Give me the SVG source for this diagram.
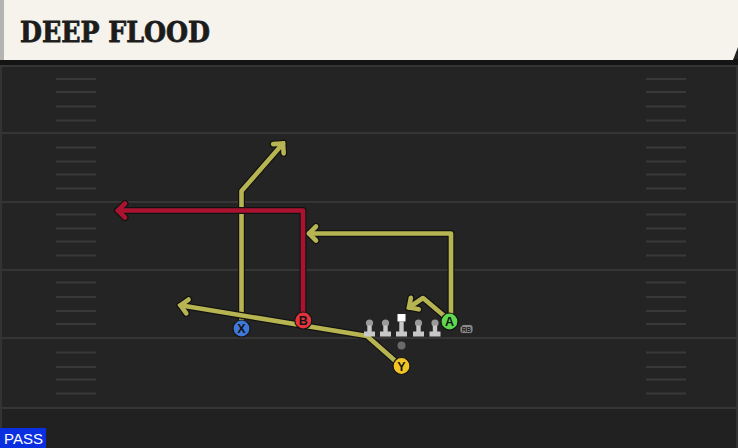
<svg xmlns="http://www.w3.org/2000/svg" width="738" height="448" viewBox="0 0 738 448">
<defs>
<style>
.yard{stroke:#353535;stroke-width:2;fill:none}
.hash{stroke:#393939;stroke-width:2;fill:none}
.out{fill:none;stroke:#121212;stroke-width:7;stroke-linejoin:round;stroke-linecap:round}
.yel{fill:none;stroke:#b7b552;stroke-width:4.6;stroke-linejoin:round;stroke-linecap:round}
.red{fill:none;stroke:#aa1330;stroke-width:4.6;stroke-linejoin:round;stroke-linecap:round}
.plr{stroke:#151515;stroke-width:1.2}
.lbl{font-family:"Liberation Sans",Arial,sans-serif;font-weight:bold;font-size:12.5px;fill:#141414;text-anchor:middle}
.lm{fill:#c8c8c8}
</style>
<marker id="mo" markerUnits="userSpaceOnUse" viewBox="-12 -12 24 24" markerWidth="24" markerHeight="24" refX="0" refY="0" orient="auto">
<path d="M-7 -7 L0 0 L-7 7" fill="none" stroke="#121212" stroke-width="7" stroke-linecap="round" stroke-linejoin="miter"/>
</marker>
<marker id="my" markerUnits="userSpaceOnUse" viewBox="-12 -12 24 24" markerWidth="24" markerHeight="24" refX="0" refY="0" orient="auto">
<path d="M-7 -7 L0 0 L-7 7" fill="none" stroke="#b7b552" stroke-width="4.6" stroke-linecap="round" stroke-linejoin="miter"/>
</marker>
<marker id="mr" markerUnits="userSpaceOnUse" viewBox="-12 -12 24 24" markerWidth="24" markerHeight="24" refX="0" refY="0" orient="auto">
<path d="M-7 -7 L0 0 L-7 7" fill="none" stroke="#aa1330" stroke-width="4.6" stroke-linecap="round" stroke-linejoin="miter"/>
</marker>
</defs>

<g id="field">
<rect x="0" y="0" width="738" height="448" fill="#242424"/>
<rect x="0" y="408" width="738" height="40" fill="#212121"/>
<rect x="0" y="60" width="2" height="388" fill="#333"/>
<rect x="736" y="60" width="2" height="388" fill="#333"/>
<path class="yard" d="M0 66H738M0 133H738M0 202H738M0 270H738M0 338H738M0 408H738"/>
<path class="hash" d="M56 79H96M56 92H96M56 106.5H96M56 120.5H96M56 147.5H96M56 161.5H96M56 174.5H96M56 188.5H96M56 214.5H96M56 228.5H96M56 241.5H96M56 255.5H96M56 282.5H96M56 297H96M56 311H96M56 324H96M56 352.5H96M56 367H96M56 379.5H96M56 393.5H96"/>
<path class="hash" d="M646 79H686M646 92H686M646 106.5H686M646 120.5H686M646 147.5H686M646 161.5H686M646 174.5H686M646 188.5H686M646 214.5H686M646 228.5H686M646 241.5H686M646 255.5H686M646 282.5H686M646 297H686M646 311H686M646 324H686M646 352.5H686M646 367H686M646 379.5H686M646 393.5H686"/>
</g>

<g id="banner">
<rect x="0" y="59" width="738" height="6" fill="#141414"/>
<path d="M0 0H738V47L733 60H0Z" fill="#f6f3ec"/>
<rect x="0" y="0" width="4" height="60" fill="#b4b4b2"/>
<text x="20" y="41.5" font-family="'DejaVu Serif','Liberation Serif',serif" font-weight="bold" font-size="28" textLength="190" lengthAdjust="spacingAndGlyphs" fill="#1c1c1c" stroke="#1c1c1c" stroke-width="0.8">DEEP FLOOD</text>
</g>

<g id="connectors">
<path class="out" d="M241.5 328V191L283 143.5" marker-end="url(#mo)"/>
<path class="yel" d="M241.5 328V191L283 143.5" marker-end="url(#my)"/>
<path class="out" d="M451 321V233.5H309" marker-end="url(#mo)"/>
<path class="yel" d="M451 321V233.5H309" marker-end="url(#my)"/>
<path class="out" d="M449 320L423 298L409 307.5" marker-end="url(#mo)"/>
<path class="yel" d="M449 320L423 298L409 307.5" marker-end="url(#my)"/>
<path class="out" d="M303 320V210.5H118" marker-end="url(#mo)"/>
<path class="red" d="M303 320V210.5H118" marker-end="url(#mr)"/>
<path class="out" d="M401 366L367 336L180.5 305.3" marker-end="url(#mo)"/>
<path class="yel" d="M401 366L367 336L180.5 305.3" marker-end="url(#my)"/>
</g>

<g id="line">
<g id="lt"><circle cx="369.5" cy="323" r="3.6" fill="#9a9a9a"/><rect x="367.3" y="325.5" width="4.4" height="7" class="lm"/><rect x="364" y="331.5" width="11" height="5" class="lm"/></g>
<g id="lg"><circle cx="385.5" cy="323" r="3.6" fill="#9a9a9a"/><rect x="383.3" y="325.5" width="4.4" height="7" class="lm"/><rect x="380" y="331.5" width="11" height="5" class="lm"/></g>
<g id="c"><rect x="397.5" y="314" width="8" height="7.5" fill="#ffffff"/><rect x="399.3" y="321.5" width="4.4" height="11" class="lm"/><rect x="396" y="331.5" width="11" height="5" class="lm"/></g>
<g id="rg"><circle cx="418.5" cy="323" r="3.6" fill="#9a9a9a"/><rect x="416.3" y="325.5" width="4.4" height="7" class="lm"/><rect x="413" y="331.5" width="11" height="5" class="lm"/></g>
<g id="rt"><circle cx="435" cy="323" r="3.6" fill="#9a9a9a"/><rect x="432.8" y="325.5" width="4.4" height="7" class="lm"/><rect x="429.5" y="331.5" width="11" height="5" class="lm"/></g>
<circle id="ball" cx="401.5" cy="345.5" r="4" fill="#6a6a6a"/>
</g>

<g id="rb-tag">
<path d="M463 324.5H470A3 3 0 0 1 473 327.5V330.5A3 3 0 0 1 470 333.5H463A3 3 0 0 1 460 330.5V327.5Z" fill="#8c8c8c" stroke="#1a1a1a" stroke-width="0.8"/>
<text x="466.5" y="331.8" font-family="'Liberation Sans',Arial,sans-serif" font-weight="bold" font-size="6.5" fill="#1a1a1a" text-anchor="middle">RB</text>
</g>

<g id="X"><circle cx="241.5" cy="328.5" r="8.5" fill="#3f78d8" class="plr"/><text x="241.5" y="333" class="lbl">X</text></g>
<g id="B"><circle cx="303.3" cy="320.5" r="8.5" fill="#e4333c" class="plr"/><text x="303.3" y="325" class="lbl">B</text></g>
<g id="A"><circle cx="449.5" cy="321.5" r="8.5" fill="#5ed84e" class="plr"/><text x="449.5" y="326" class="lbl">A</text></g>
<g id="Y"><circle cx="401.5" cy="366" r="8.5" fill="#f0c424" class="plr"/><text x="401.5" y="370.5" class="lbl">Y</text></g>

<g id="pass">
<rect x="0" y="428" width="46" height="20" fill="#0a2fe0"/>
<text x="4" y="444" font-family="'Liberation Sans',Arial,sans-serif" font-size="15" fill="#ffffff">PASS</text>
</g>
</svg>
